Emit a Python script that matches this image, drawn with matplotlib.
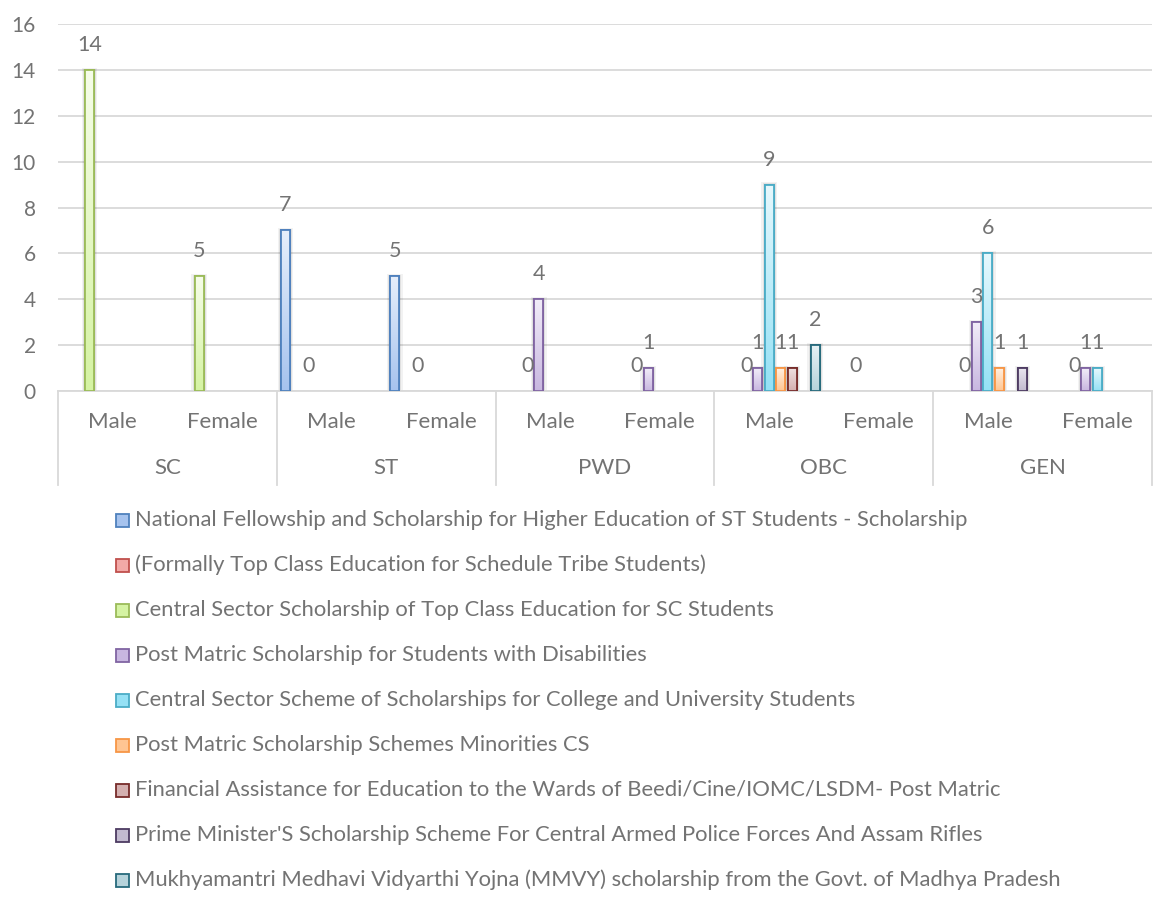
import numpy as np
import matplotlib
matplotlib.use("Agg")
import matplotlib.pyplot as plt
from matplotlib.patches import Rectangle
from matplotlib.transforms import blended_transform_factory
from matplotlib.colors import LinearSegmentedColormap

plt.rcParams['font.family'] = ['Lato', 'DejaVu Sans']

# ---- data -------------------------------------------------------------
groups = ["SC", "ST", "PWD", "OBC", "GEN"]
genders = ["Male", "Female"]

series_names = [
    "National Fellowship and Scholarship for Higher Education of ST Students - Scholarship",
    "(Formally Top Class Education for Schedule Tribe Students)",
    "Central Sector Scholarship of Top Class Education for SC Students",
    "Post Matric Scholarship for Students with Disabilities",
    "Central Sector Scheme of Scholarships for College and University Students",
    "Post Matric Scholarship Schemes Minorities CS",
    "Financial Assistance for Education to the Wards of Beedi/Cine/IOMC/LSDM- Post Matric",
    "Prime Minister'S Scholarship Scheme For Central Armed Police Forces And Assam Rifles",
    "Mukhyamantri Medhavi Vidyarthi Yojna (MMVY) scholarship from the Govt. of Madhya Pradesh",
]

N = None
# order: SC M, SC F, ST M, ST F, PWD M, PWD F, OBC M, OBC F, GEN M, GEN F
national_fellowship = [N, N, 7, 5, N, N, N, N, N, N]
formally_top_class  = [N, N, N, N, N, N, N, N, N, N]
top_class_sc        = [14, 5, 0, 0, 0, 0, 0, 0, 0, 0]
post_matric_disab   = [N, N, N, N, 4, 1, 1, N, 3, 1]
central_sector      = [N, N, N, N, N, N, 9, N, 6, 1]
minorities_cs       = [N, N, N, N, N, N, 1, N, 1, N]
beedi_cine          = [N, N, N, N, N, N, 1, N, N, N]
pm_capf             = [N, N, N, N, N, N, N, N, 1, N]
mmvy                = [N, N, N, N, N, N, 2, N, N, N]

series_values = [national_fellowship, formally_top_class, top_class_sc,
                 post_matric_disab, central_sector, minorities_cs,
                 beedi_cine, pm_capf, mmvy]

# edge colour, gradient top, gradient bottom
styles = [
    ("#4F81BD", "#E6EEFB", "#A6C3EE"),
    ("#C0504D", "#FBE5E5", "#F2A9A7"),
    ("#9BBB59", "#F6FDE9", "#D5F3A3"),
    ("#8064A2", "#F1ECF8", "#C8B7E0"),
    ("#4BACC6", "#E6F8FD", "#95E1F5"),
    ("#F79646", "#FFF0E0", "#FFC592"),
    ("#772C2A", "#EEDFDF", "#D4B0B0"),
    ("#4D3B62", "#E8E5EE", "#C2BACF"),
    ("#276A7C", "#E6F1F4", "#B6D3DB"),
]

text_color = "#737373"
grid_color = "#D9D9D9"

# ---- figure -----------------------------------------------------------
W, H = 1159, 898
fig = plt.figure(figsize=(W / 100, H / 100), dpi=100)
ax = fig.add_axes([58 / W, 1 - 391 / H, 1094 / W, 367 / H])

n_cat = len(groups) * len(genders)
n_ser = len(series_values)
slot = 0.105
bar_w = 0.082
x = np.arange(n_cat)

ax.set_xlim(-0.5, n_cat - 0.5)
ax.set_ylim(0, 16)

for si, (vals, (ec, top, bot)) in enumerate(zip(series_values, styles)):
    cmap = LinearSegmentedColormap.from_list(f"g{si}", [bot, top])
    for ci, v in enumerate(vals):
        if v is None:
            continue
        xc = x[ci] + (si - (n_ser - 1) / 2) * slot
        if v > 0:
            # soft drop shadow
            for k, a in ((0.030, 0.05), (0.018, 0.07), (0.008, 0.09)):
                sh = Rectangle((xc - bar_w / 2 - k, 0), bar_w + 2 * k, v + k * 3,
                               facecolor="#000000", alpha=a, edgecolor="none",
                               zorder=2)
                ax.add_patch(sh)
            bars = ax.bar(xc, v, width=bar_w, color="white", edgecolor=ec,
                          linewidth=1.3, zorder=3)
            rect = bars.patches[0]
            grad = np.linspace(0, 1, 64).reshape(-1, 1)
            im = ax.imshow(grad, cmap=cmap, aspect="auto", origin="lower",
                           extent=(xc - bar_w / 2, xc + bar_w / 2, 0, v),
                           zorder=3.5, interpolation="bilinear")
            im.set_clip_path(rect)
            # redraw outline on top of the gradient
            ax.bar(xc, v, width=bar_w, color="none", edgecolor=ec,
                   linewidth=1.3, zorder=4)
        ax.annotate(f"{v}", (xc, v), xytext=(0, 18), textcoords="offset points",
                    ha="center", va="center", fontsize=15.5, color=text_color,
                    zorder=5)

ax.set_xlim(-0.5, n_cat - 0.5)
ax.set_ylim(0, 16)

# axes styling
ax.set_yticks(np.arange(0, 17, 2))
ax.tick_params(axis="y", length=0, pad=16, labelsize=15, labelcolor=text_color)
ax.set_xticks([])
ax.yaxis.grid(True, color=grid_color, linewidth=1.3)
ax.set_axisbelow(True)
for s in ("top", "right", "left"):
    ax.spines[s].set_visible(False)
ax.spines["bottom"].set_color(grid_color)
ax.spines["bottom"].set_linewidth(1.3)

# two-level category axis
tr = blended_transform_factory(ax.transData, ax.transAxes)
y_sub = (391 - 422) / 367
y_grp = (391 - 468) / 367
y_end = (391 - 485) / 367
for gi, g in enumerate(groups):
    for k, gen in enumerate(genders):
        ax.text(2 * gi + k, y_sub, gen, transform=tr, ha="center", va="center",
                fontsize=16, color=text_color)
    ax.text(2 * gi + 0.5, y_grp, g, transform=tr, ha="center", va="center",
            fontsize=16, color=text_color)
for b in np.arange(-0.5, n_cat, 2):
    ax.plot([b, b], [0, y_end], transform=tr, color=grid_color, lw=1.3,
            clip_on=False)

# legend, one entry per row
sq = 13
for i, (name, (ec, top, bot)) in enumerate(zip(series_names, styles)):
    yc = 520 + 45 * i
    fig.patches.append(Rectangle((116 / W, 1 - (yc + sq / 2) / H), sq / W, sq / H,
                                 transform=fig.transFigure, facecolor=bot,
                                 edgecolor=ec, linewidth=1.3))
    fig.text(135 / W, 1 - yc / H, name, ha="left", va="center", fontsize=15.8,
             color=text_color)

fig.savefig("out.png", dpi=100, facecolor="white")
